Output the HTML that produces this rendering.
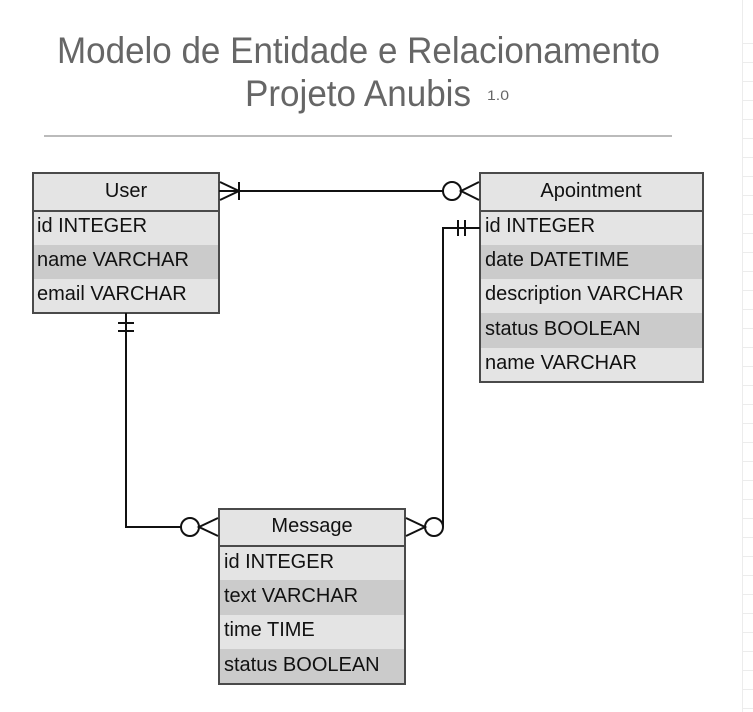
<!DOCTYPE html>
<html><head><style>
html,body{margin:0;padding:0;background:#fff;}
svg{display:block;}
text{font-family:"Liberation Sans",sans-serif;}
</style></head><body>
<svg width="753" height="712" viewBox="0 0 753 712" xmlns="http://www.w3.org/2000/svg">
<g stroke="#ececec" stroke-width="1">
<line x1="742.5" y1="0" x2="742.5" y2="712"/>
<line x1="743" y1="43.5" x2="753" y2="43.5"/><line x1="743" y1="62.5" x2="753" y2="62.5"/>
<line x1="743" y1="81.5" x2="753" y2="81.5"/><line x1="743" y1="100.5" x2="753" y2="100.5"/>
<line x1="743" y1="119.5" x2="753" y2="119.5"/><line x1="743" y1="138.5" x2="753" y2="138.5"/>
<line x1="743" y1="157.5" x2="753" y2="157.5"/><line x1="743" y1="176.5" x2="753" y2="176.5"/>
<line x1="743" y1="195.5" x2="753" y2="195.5"/><line x1="743" y1="214.5" x2="753" y2="214.5"/>
<line x1="743" y1="233.5" x2="753" y2="233.5"/><line x1="743" y1="252.5" x2="753" y2="252.5"/>
<line x1="743" y1="271.5" x2="753" y2="271.5"/><line x1="743" y1="290.5" x2="753" y2="290.5"/>
<line x1="743" y1="309.5" x2="753" y2="309.5"/><line x1="743" y1="328.5" x2="753" y2="328.5"/>
<line x1="743" y1="347.5" x2="753" y2="347.5"/><line x1="743" y1="366.5" x2="753" y2="366.5"/>
<line x1="743" y1="385.5" x2="753" y2="385.5"/><line x1="743" y1="404.5" x2="753" y2="404.5"/>
<line x1="743" y1="423.5" x2="753" y2="423.5"/><line x1="743" y1="442.5" x2="753" y2="442.5"/>
<line x1="743" y1="461.5" x2="753" y2="461.5"/><line x1="743" y1="480.5" x2="753" y2="480.5"/>
<line x1="743" y1="499.5" x2="753" y2="499.5"/><line x1="743" y1="518.5" x2="753" y2="518.5"/>
<line x1="743" y1="537.5" x2="753" y2="537.5"/><line x1="743" y1="556.5" x2="753" y2="556.5"/>
<line x1="743" y1="575.5" x2="753" y2="575.5"/><line x1="743" y1="594.5" x2="753" y2="594.5"/>
<line x1="743" y1="613.5" x2="753" y2="613.5"/><line x1="743" y1="632.5" x2="753" y2="632.5"/>
<line x1="743" y1="651.5" x2="753" y2="651.5"/><line x1="743" y1="670.5" x2="753" y2="670.5"/>
<line x1="743" y1="689.5" x2="753" y2="689.5"/><line x1="743" y1="708.5" x2="753" y2="708.5"/>
</g>

<text x="57" y="63" font-size="37" fill="#666" textLength="603" lengthAdjust="spacingAndGlyphs">Modelo de Entidade e Relacionamento</text>
<text x="245" y="106" font-size="37" fill="#666" textLength="226" lengthAdjust="spacingAndGlyphs">Projeto Anubis</text>
<text x="487" y="100" font-size="14" fill="#666" textLength="22" lengthAdjust="spacingAndGlyphs">1.0</text>
<line x1="44" y1="136" x2="672" y2="136" stroke="#bbb" stroke-width="2"/>

<g font-size="20" fill="#111">
<rect x="33" y="173" width="186" height="38" fill="#e4e4e4"/>
<rect x="33" y="211" width="186" height="34" fill="#e4e4e4"/>
<rect x="33" y="245" width="186" height="34" fill="#cbcbcb"/>
<rect x="33" y="279" width="186" height="34" fill="#e4e4e4"/>
<rect x="33" y="173" width="186" height="140" fill="none" stroke="#4a4a4a" stroke-width="2"/>
<line x1="33" y1="211" x2="219" y2="211" stroke="#4a4a4a" stroke-width="2"/>
<text x="126" y="197" text-anchor="middle">User</text>
<text x="37" y="232">id INTEGER</text>
<text x="37" y="266">name VARCHAR</text>
<text x="37" y="300">email VARCHAR</text>
</g>

<g font-size="20" fill="#111">
<rect x="480" y="173" width="223" height="38" fill="#e4e4e4"/>
<rect x="480" y="211" width="223" height="34" fill="#e4e4e4"/>
<rect x="480" y="245" width="223" height="34" fill="#cbcbcb"/>
<rect x="480" y="279" width="223" height="34" fill="#e4e4e4"/>
<rect x="480" y="313" width="223" height="35" fill="#cbcbcb"/>
<rect x="480" y="348" width="223" height="34" fill="#e4e4e4"/>
<rect x="480" y="173" width="223" height="209" fill="none" stroke="#4a4a4a" stroke-width="2"/>
<line x1="480" y1="211" x2="703" y2="211" stroke="#4a4a4a" stroke-width="2"/>
<text x="591" y="197" text-anchor="middle">Apointment</text>
<text x="485" y="232">id INTEGER</text>
<text x="485" y="266">date DATETIME</text>
<text x="485" y="300">description VARCHAR</text>
<text x="485" y="335">status BOOLEAN</text>
<text x="485" y="369">name VARCHAR</text>
</g>

<g font-size="20" fill="#111">
<rect x="219" y="509" width="186" height="37" fill="#e4e4e4"/>
<rect x="219" y="546" width="186" height="34" fill="#e4e4e4"/>
<rect x="219" y="580" width="186" height="35" fill="#cbcbcb"/>
<rect x="219" y="615" width="186" height="34" fill="#e4e4e4"/>
<rect x="219" y="649" width="186" height="35" fill="#cbcbcb"/>
<rect x="219" y="509" width="186" height="175" fill="none" stroke="#4a4a4a" stroke-width="2"/>
<line x1="219" y1="546" x2="405" y2="546" stroke="#4a4a4a" stroke-width="2"/>
<text x="312" y="532" text-anchor="middle">Message</text>
<text x="224" y="568">id INTEGER</text>
<text x="224" y="602">text VARCHAR</text>
<text x="224" y="636">time TIME</text>
<text x="224" y="671">status BOOLEAN</text>
</g>

<g fill="none" stroke="#111" stroke-width="2">
<line x1="219" y1="191" x2="443" y2="191"/>
<polyline points="220,182 239,191 220,200"/>
<line x1="239" y1="182" x2="239" y2="200"/>
<circle cx="452" cy="191" r="9" fill="#fff"/>
<polyline points="479,182 461,191 479,200"/>
<polyline points="480,228 443,228 443,527"/>
<line x1="458" y1="220" x2="458" y2="236"/>
<line x1="465" y1="220" x2="465" y2="236"/>
<circle cx="434" cy="527" r="9" fill="#fff"/>
<polyline points="406,518 425,527 406,536"/>
<polyline points="126,313 126,527 181,527"/>
<line x1="118" y1="323" x2="134" y2="323"/>
<line x1="118" y1="331" x2="134" y2="331"/>
<circle cx="190" cy="527" r="9" fill="#fff"/>
<polyline points="218,518 199,527 218,536"/>
</g>
</svg>
</body></html>
